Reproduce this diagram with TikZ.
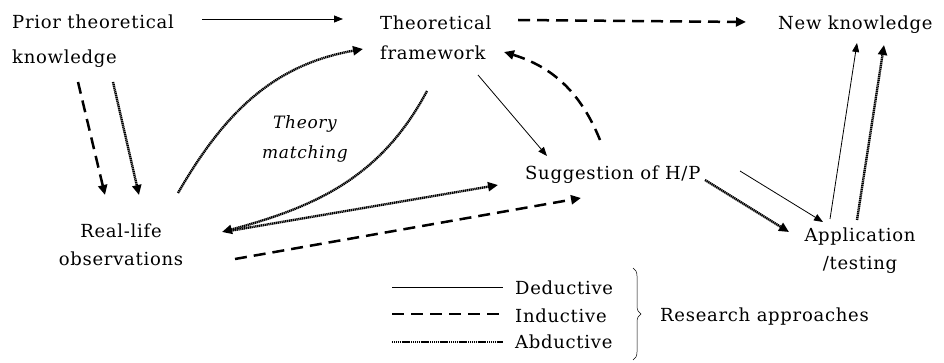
\documentclass[tikz,border=0pt]{standalone}
\usepackage{fontspec}
\setmainfont[LetterSpace=4]{DejaVu Serif}
\usetikzlibrary{arrows.meta,decorations.pathreplacing}
\begin{document}
\begin{tikzpicture}[x=1pt,y=-1pt,
  lbl/.style={inner sep=0pt, font=\fontsize{18}{30}\selectfont},
  ded/.style={line width=0.8pt, -{Triangle[length=9pt,width=7pt]}},
  ind/.style={line width=2.5pt, dash pattern=on 12pt off 7pt, -{Triangle[length=10pt,width=9pt]}},
  abd/.style={line width=2.4pt, dash pattern=on 1.3pt off 0.6pt, -{Triangle[length=10pt,width=9pt]}},
  legded/.style={line width=0.8pt},
  legind/.style={line width=2.5pt, dash pattern=on 12pt off 7pt},
  legabd/.style={line width=2.4pt, dash pattern=on 1.3pt off 0.6pt},
]
\useasboundingbox (0,0) rectangle (944,363);

% nodes
\node[lbl, align=left, anchor=west, font=\fontsize{18}{35}\selectfont] (prior) at (12,41) {Prior theoretical\\knowledge};
\node[lbl, align=left, anchor=west] (theo) at (380,38) {Theoretical\\framework};
\node[lbl, anchor=west] (newk) at (778,25) {New knowledge};
\node[lbl, align=center, font=\fontsize{18}{28}\selectfont] (real) at (121,245) {Real-life\\observations};
\node[lbl, anchor=west] (sugg) at (525,175) {Suggestion of H/P};
\node[lbl, align=center, font=\fontsize{18}{28}\selectfont] (appl) at (860,251) {Application\\/testing};
\node[lbl, align=center, font=\fontsize{17}{30}\selectfont\itshape] (match) at (305,139) {Theory\\matching};

% legend
\node[lbl, anchor=west] (ldd) at (515,288) {Deductive};
\node[lbl, anchor=west] (lin) at (515,316) {Inductive};
\node[lbl, anchor=west] (lab) at (515,342) {Abductive};
\node[lbl, anchor=west] (resap) at (660,317) {Research approaches};
\coordinate (ld1) at (392,287); \coordinate (ld2) at (503,287);
\coordinate (li1) at (392,314); \coordinate (li2) at (505,314);
\coordinate (la1) at (392,342); \coordinate (la2) at (503,342);
\draw[legded] (ld1) -- (ld2);
\draw[legind] (li1) -- (li2);
\draw[legabd] (la1) -- (la2);
\coordinate (br1) at (633,268); \coordinate (br2) at (633,360);
\draw[line width=0.5pt, decoration={brace, amplitude=8pt}, decorate] (br1) -- (br2);

% connector end points
\coordinate (a1s) at (202,19);  \coordinate (a1e) at (343,19);
\coordinate (a2s) at (518,20);  \coordinate (a2e) at (746,22);
\coordinate (a3s) at (78,82);   \coordinate (a3e) at (105,195);
\coordinate (a4s) at (113,82);  \coordinate (a4e) at (139,195);
\coordinate (a5s) at (178,193); \coordinate (a5e) at (363,49);
\coordinate (a6s) at (427,91);  \coordinate (a6e) at (222,232);
\coordinate (a7s) at (229,231); \coordinate (a7e) at (498,185);
\coordinate (a8s) at (235,259); \coordinate (a8e) at (581,198);
\coordinate (a9s) at (478,75);  \coordinate (a9e) at (547,156);
\coordinate (a10s) at (600,140);\coordinate (a10e) at (504,52);
\coordinate (a11s) at (705,180);\coordinate (a11e) at (789,232);
\coordinate (a12s) at (740,171);\coordinate (a12e) at (823,222);
\coordinate (a13s) at (830,219);\coordinate (a13e) at (857,43);
\coordinate (a14s) at (857,220);\coordinate (a14e) at (884,45);

% connectors
\draw[ded] (a1s) -- (a1e);
\draw[ind] (a2s) -- (a2e);
\draw[ind] (a3s) -- (a3e);
\draw[abd] (a4s) -- (a4e);
\draw[abd] (a5s) to[out=60,in=190] (a5e);
\draw[abd] (a6s) to[out=242,in=15] (a6e);
\draw[abd] (a7s) -- (a7e);
\draw[ind] (a8s) -- (a8e);
\draw[ded] (a9s) -- (a9e);
\draw[ind] (a10s) to[out=112,in=-17] (a10e);
\draw[abd] (a11s) -- (a11e);
\draw[ded] (a12s) -- (a12e);
\draw[ded] (a13s) -- (a13e);
\draw[abd] (a14s) -- (a14e);
\end{tikzpicture}
\end{document}
